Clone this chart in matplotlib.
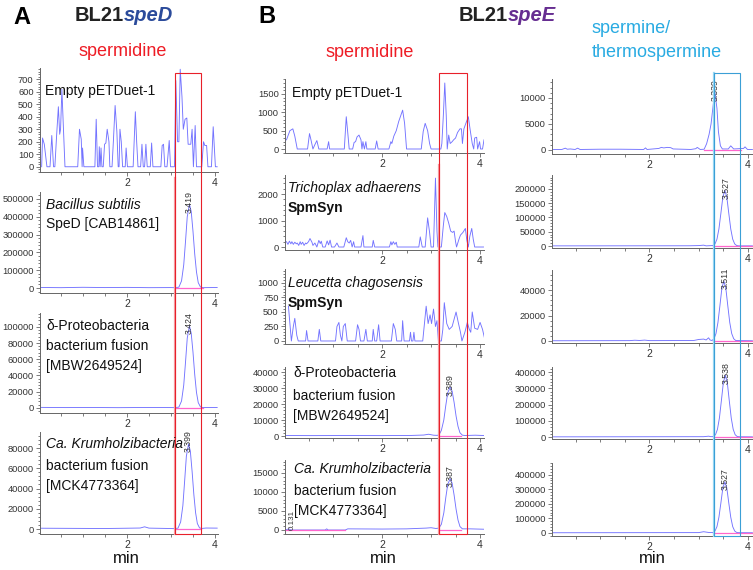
import matplotlib
matplotlib.use("Agg")
import matplotlib.pyplot as plt
from matplotlib.ticker import MultipleLocator, AutoMinorLocator, FixedLocator
from matplotlib.patches import Rectangle
from matplotlib.lines import Line2D

# chromatogram traces: (retention time [min], intensity)
a1 = [(0.06, 0), (0.08, 230), (0.12, 180), (0.18, 0), (0.25, 0), (0.29, 250), (0.33, 0),
      (0.36, 0), (0.40, 250), (0.44, 480), (0.47, 260), (0.49, 300), (0.52, 620), (0.55, 350), (0.59, 0),
      (0.88, 0), (0.92, 300), (0.96, 220), (0.98, 0), (0.99, 150), (1.02, 0),
      (1.27, 0), (1.30, 380), (1.33, 0), (1.36, 0), (1.37, 160), (1.39, 0), (1.41, 150), (1.43, 0),
      (1.46, 0), (1.49, 180), (1.52, 190), (1.55, 300), (1.59, 200), (1.61, 0),
      (1.66, 0), (1.69, 200), (1.73, 490), (1.77, 280), (1.80, 0), (1.82, 0), (1.84, 300), (1.87, 200), (1.90, 0),
      (1.96, 0), (1.98, 150), (2.01, 0), (2.14, 0), (2.19, 440), (2.22, 200), (2.25, 0),
      (2.31, 0), (2.34, 180), (2.37, 0), (2.40, 0), (2.43, 180), (2.46, 0), (2.53, 0), (2.56, 190), (2.59, 0),
      (2.77, 0), (2.80, 170), (2.83, 180), (2.86, 0), (2.91, 0), (2.96, 210), (2.99, 0),
      (3.08, 0), (3.11, 690), (3.15, 200), (3.18, 200), (3.21, 780), (3.25, 560), (3.28, 300), (3.32, 380),
      (3.36, 390), (3.39, 180), (3.45, 180), (3.48, 300), (3.51, 0), (3.55, 330), (3.58, 0),
      (3.70, 0), (3.74, 200), (3.77, 170), (3.81, 170), (3.84, 0), (3.92, 0), (3.96, 320), (4.01, 0), (4.05, 0)]
a2 = [(0.05, 3000), (0.5, 2000), (1.0, 4000), (1.5, 2500), (2.0, 3500), (2.5, 2000), (3.0, 2500), (3.10, 1500),
      (3.18, 5000), (3.24, 40000), (3.29, 130000), (3.33, 260000), (3.37, 400000), (3.42, 470000),
      (3.46, 430000), (3.50, 320000), (3.54, 190000), (3.58, 90000), (3.62, 30000), (3.67, 6000),
      (3.72, 2000), (4.05, 3000)]
a3 = [(0.05, 600), (0.6, 400), (1.2, 500), (1.8, 300), (2.4, 500), (3.0, 400), (3.10, 300), (3.18, 1000),
      (3.24, 8500), (3.29, 28000), (3.33, 56000), (3.37, 86000), (3.42, 101000), (3.46, 92000),
      (3.50, 69000), (3.54, 41000), (3.58, 19000), (3.62, 6500), (3.67, 1300), (3.72, 400), (4.05, 500)]
a4 = [(0.05, 800), (1.5, 500), (2.0, 800), (2.3, 1000), (2.4, 2200), (2.5, 900), (3.0, 500), (3.08, 400),
      (3.16, 900), (3.22, 7000), (3.27, 23000), (3.31, 47000), (3.35, 72000), (3.40, 84000), (3.44, 77000),
      (3.48, 57000), (3.52, 34000), (3.56, 16000), (3.60, 5400), (3.65, 1100), (3.70, 600), (3.8, 1000),
      (4.05, 900)]

b1 = [(0.05, 250), (0.12, 500), (0.18, 550), (0.22, 350), (0.27, 0), (0.48, 0), (0.52, 420), (0.55, 250),
      (0.59, 0), (0.63, 120), (0.67, 230), (0.71, 0), (0.88, 0), (0.91, 200), (0.93, 0), (1.23, 0),
      (1.27, 880), (1.30, 450), (1.33, 0), (1.40, 0), (1.43, 180), (1.46, 200), (1.49, 330), (1.53, 380),
      (1.57, 250), (1.59, 0), (1.61, 200), (1.64, 0), (1.67, 200), (1.69, 0), (1.86, 0), (1.89, 220),
      (1.92, 0), (2.14, 0), (2.18, 200), (2.20, 150), (2.24, 350), (2.29, 500), (2.34, 750), (2.42, 1060),
      (2.46, 700), (2.50, 0), (2.80, 0), (2.84, 480), (2.88, 700), (2.93, 500), (2.97, 150), (3.00, 0),
      (3.20, 0), (3.22, 150), (3.25, 900), (3.28, 1800), (3.31, 900), (3.33, 0), (3.36, 380), (3.39, 150),
      (3.43, 200), (3.46, 250), (3.50, 300), (3.54, 450), (3.59, 550), (3.62, 550), (3.64, 150), (3.67, 550),
      (3.71, 700), (3.76, 880), (3.80, 500), (3.84, 150), (3.87, 0), (3.89, 300), (3.93, 320), (3.95, 0),
      (3.99, 200), (4.01, 0), (4.05, 0), (4.08, 250)]
b2 = [(0.05, 200), (0.08, 100), (0.11, 220), (0.14, 120), (0.16, 200), (0.19, 100), (0.22, 180), (0.25, 120),
      (0.27, 150), (0.30, 60), (0.33, 200), (0.35, 100), (0.38, 180), (0.41, 60), (0.44, 150), (0.46, 120),
      (0.50, 200), (0.53, 320), (0.57, 180), (0.59, 60), (0.63, 150), (0.67, 0), (0.71, 250), (0.74, 130),
      (0.76, 220), (0.79, 0), (0.84, 0), (0.88, 230), (0.91, 80), (0.94, 260), (0.97, 0), (1.03, 0),
      (1.08, 150), (1.12, 0), (1.22, 0), (1.27, 350), (1.30, 200), (1.33, 150), (1.36, 250), (1.39, 0),
      (1.42, 200), (1.44, 0), (1.57, 0), (1.61, 430), (1.63, 0), (1.80, 0), (1.82, 250), (1.85, 0),
      (2.15, 0), (2.18, 200), (2.20, 80), (2.23, 200), (2.26, 100), (2.29, 180), (2.31, 0), (2.75, 0),
      (2.78, 380), (2.82, 0), (2.88, 0), (2.93, 1100), (2.97, 550), (3.00, 0), (3.05, 0), (3.09, 2600),
      (3.12, 600), (3.14, 0), (3.21, 0), (3.25, 800), (3.28, 1300), (3.32, 1150), (3.36, 900), (3.40, 600),
      (3.44, 550), (3.47, 600), (3.50, 200), (3.52, 0), (3.57, 300), (3.60, 450), (3.65, 550), (3.70, 700),
      (3.73, 250), (3.76, 0), (3.79, 400), (3.83, 700), (3.86, 300), (3.89, 0), (4.07, 0)]
b3 = [(0.09, 600), (0.12, 300), (0.15, 0), (0.19, 250), (0.22, 390), (0.26, 100), (0.29, 0), (0.44, 0),
      (0.46, 180), (0.49, 0), (0.69, 0), (0.72, 200), (0.75, 0), (1.05, 0), (1.08, 250), (1.12, 320),
      (1.15, 100), (1.18, 0), (1.21, 250), (1.25, 300), (1.29, 0), (1.46, 0), (1.50, 280), (1.53, 200),
      (1.56, 0), (1.63, 0), (1.67, 200), (1.70, 0), (1.80, 0), (1.82, 200), (1.85, 0), (1.89, 0),
      (1.93, 280), (1.96, 0), (2.19, 0), (2.23, 300), (2.27, 200), (2.30, 0), (2.40, 0), (2.42, 350),
      (2.45, 0), (2.56, 0), (2.58, 150), (2.60, 0), (2.63, 0), (2.65, 150), (2.67, 0), (2.83, 0),
      (2.90, 600), (2.94, 300), (2.98, 450), (3.01, 300), (3.05, 550), (3.09, 250), (3.12, 350), (3.15, 0),
      (3.21, 0), (3.24, 200), (3.27, 660), (3.32, 300), (3.37, 200), (3.43, 250), (3.51, 500), (3.56, 300),
      (3.60, 150), (3.63, 0), (3.69, 150), (3.74, 320), (3.78, 200), (3.81, 150), (3.84, 500), (3.89, 220),
      (3.95, 200), (4.00, 320), (4.05, 200), (4.09, 50)]
b4 = [(0.05, 300), (0.6, 250), (1.2, 300), (2.0, 250), (2.6, 350), (2.85, 600), (2.95, 1100), (3.05, 500),
      (3.12, 400), (3.16, 600), (3.21, 3500), (3.26, 10000), (3.30, 19000), (3.34, 27000), (3.39, 30500),
      (3.43, 28000), (3.47, 21000), (3.51, 12500), (3.55, 6000), (3.59, 2000), (3.64, 500), (3.70, 300),
      (3.9, 500), (4.08, 300)]
b5 = [(0.05, 100), (0.10, 300), (0.14, 0), (0.84, 0), (0.87, 300), (0.90, 0), (1.25, 0), (1.30, 300),
      (2.0, 250), (2.5, 300), (2.9, 500), (3.0, 600), (3.1, 400), (3.16, 500), (3.21, 1500), (3.26, 4500),
      (3.30, 8500), (3.34, 12000), (3.39, 13500), (3.43, 12300), (3.47, 9200), (3.51, 5500), (3.55, 2600),
      (3.59, 900), (3.64, 300), (3.80, 300), (4.08, 200)]

c1 = [(0.05, 100), (0.22, 100), (0.29, 350), (0.33, 150), (0.39, 200), (0.49, 100), (0.54, 350), (0.59, 100),
      (1.00, 150), (1.41, 150), (1.88, 100), (1.92, 400), (1.95, 100), (2.19, 300), (2.24, 500), (2.29, 400),
      (2.36, 500), (2.43, 450), (2.48, 200), (2.84, 100), (2.94, 250), (2.97, 500), (3.03, 100), (3.11, 150),
      (3.16, 1200), (3.21, 3000), (3.25, 5000), (3.28, 7500), (3.31, 10000), (3.33, 11000), (3.37, 8000),
      (3.40, 3500), (3.44, 800), (3.48, 200), (3.60, 200), (3.65, 800), (3.71, 200), (3.91, 300),
      (3.94, 600), (3.99, 100), (4.09, 100)]
c2 = [(0.05, 500), (2.8, 800), (3.0, 1500), (3.1, 3000), (3.15, 500), (3.29, 1700), (3.33, 7300),
      (3.37, 24000), (3.41, 60000), (3.45, 115000), (3.49, 172000), (3.53, 195000), (3.57, 172000),
      (3.61, 115000), (3.65, 60000), (3.69, 24000), (3.73, 7300), (3.77, 1700), (3.81, 500), (4.09, 500)]
c3 = [(0.05, 200), (1.6, 300), (1.7, 600), (1.8, 400), (1.9, 700), (2.0, 300), (2.9, 400), (3.0, 1200),
      (3.1, 1500), (3.15, 800), (3.2, 2500), (3.23, 800), (3.27, 400), (3.31, 1800), (3.35, 5800),
      (3.39, 14500), (3.43, 27700), (3.47, 41500), (3.51, 47000), (3.55, 41500), (3.59, 27700),
      (3.63, 14500), (3.67, 5800), (3.71, 1800), (3.75, 400), (3.85, 300), (4.09, 200)]
c4 = [(0.05, 1000), (3.1, 2000), (3.2, 5000), (3.25, 2000), (3.30, 3300), (3.34, 14000), (3.38, 47000),
      (3.42, 117000), (3.46, 224000), (3.50, 335000), (3.54, 380000), (3.58, 335000), (3.62, 224000),
      (3.66, 117000), (3.70, 47000), (3.74, 14000), (3.78, 3300), (3.82, 1500), (4.09, 1000)]
c5 = [(0.05, 1000), (3.0, 2000), (3.1, 8000), (3.2, 3000), (3.29, 3000), (3.33, 13000), (3.37, 43000),
      (3.41, 108000), (3.45, 206000), (3.49, 309000), (3.53, 350000), (3.57, 309000), (3.61, 206000),
      (3.65, 108000), (3.69, 43000), (3.73, 13000), (3.77, 3000), (3.81, 1500), (4.09, 1000)]

# integrated peaks: (rt label, apex time, apex height)
peaks = {
    'a2': ('3.419', 3.42, 470000), 'a3': ('3.424', 3.42, 101000), 'a4': ('3.399', 3.40, 84000),
    'b4': ('3.389', 3.39, 30500), 'b5': ('3.387', 3.39, 13500),
    'c1': ('3.339', 3.33, 11000), 'c2': ('3.527', 3.55, 195000), 'c3': ('3.511', 3.53, 47000),
    'c4': ('3.538', 3.55, 380000), 'c5': ('3.527', 3.54, 350000),
}
# integration baselines (start, end) in min
baselines = {
    'a2': [(3.12, 3.72)], 'a3': [(3.10, 3.72)], 'a4': [(3.10, 3.68)],
    'b4': [(3.16, 3.62)], 'b5': [(0.05, 1.25), (3.16, 3.62)],
    'c1': [(3.11, 3.85)], 'c2': [(3.28, 4.09)], 'c3': [(3.28, 4.09)],
    'c4': [(3.28, 4.09)], 'c5': [(3.28, 4.09)],
}
# extracted ion windows (min)
win_spd_a = (3.09, 3.68)
win_spd_b = (3.16, 3.73)
win_spm_c = (3.31, 3.84)

plt.rcParams['font.family'] = ['Liberation Sans', 'DejaVu Sans']

W, H = 753, 570
fig = plt.figure(figsize=(W / 100, H / 100), dpi=100)

TRACE = '#7373ff'
PINK = '#ff66cc'


def ptext(x, y, s, **kw):
    return fig.text(x / W, 1 - y / H, s, **kw)


def make_axes(left, right, top, bottom, xlim, ylim, ystep):
    ax = fig.add_axes([left / W, 1 - bottom / H, (right - left) / W, (bottom - top) / H])
    ax.patch.set_visible(False)
    ax.set_xlim(xlim)
    ax.set_ylim(ylim)
    for s in ('top', 'right'):
        ax.spines[s].set_visible(False)
    for s in ('left', 'bottom'):
        ax.spines[s].set_color('#666666')
        ax.spines[s].set_linewidth(0.7)
    ax.xaxis.set_major_locator(FixedLocator([2, 4]))
    ax.xaxis.set_minor_locator(MultipleLocator(0.5))
    ax.yaxis.set_major_locator(MultipleLocator(ystep))
    ax.yaxis.set_minor_locator(AutoMinorLocator(5))
    ax.tick_params(which='both', colors='#666666', labelcolor='#333333', width=0.6, length=3, pad=1.5)
    ax.tick_params(which='minor', length=1.8)
    ax.tick_params(axis='y', labelsize=6.7)
    ax.tick_params(axis='x', labelsize=7.5)
    return ax


def draw_trace(ax, key, data):
    t, y = zip(*data)
    ax.plot(t, y, color=TRACE, lw=0.65, zorder=2)
    for t0, t1 in baselines.get(key, []):
        ax.plot([t0, t1], [0, 0], color=PINK, lw=0.9, zorder=3)
    if key in peaks:
        lbl, rt, h = peaks[key]
        ax.annotate(lbl, (rt, h), xytext=(0, -6), textcoords='offset points', rotation=90,
                    ha='center', va='bottom', fontsize=6.3, color='#333333', zorder=4)


# layout: column x extents and rows (top px, bottom px, ylim, major step)
cols = {
    'a': (39.9, 217.6, (0.02, 4.06)),
    'b': (285.0, 484.0, (0.02, 4.08)),
    'c': (552.0, 752.9, (0.02, 4.10)),
}
rows = {
    'a': [(68, 172, (-42, 790), 100), (192, 293, (-28000, 539000), 100000),
          (313, 413, (-6300, 117000), 20000), (432, 534, (-4900, 95800), 20000)],
    'b': [(79, 153, (-109, 1909), 500), (175, 250, (-113, 2717), 1000), (269, 344, (-52, 1241), 250),
          (367, 438, (-1250, 43125), 10000), (460, 534, (-1053, 18420), 5000)],
    'c': [(79, 154, (-770, 13650), 5000), (175, 248, (-7000, 249000), 50000),
          (270, 343, (-1570, 55700), 20000), (367, 439, (-12300, 430800), 100000),
          (463, 536, (-21400, 480000), 100000)],
}
traces = {'a': [a1, a2, a3, a4], 'b': [b1, b2, b3, b4, b5], 'c': [c1, c2, c3, c4, c5]}

axes = {}
for col, (left, right, xlim) in cols.items():
    axes[col] = []
    for i, (top, bottom, ylim, step) in enumerate(rows[col]):
        ax = make_axes(left, right, top, bottom, xlim, ylim, step)
        draw_trace(ax, f'{col}{i + 1}', traces[col][i])
        axes[col].append(ax)

# small extra label at start of B5
axes['b'][4].annotate('0.131', (0.13, 0), xytext=(1, 0), textcoords='offset points', rotation=90,
                      ha='center', va='bottom', fontsize=5.8, color='#333333')


def window_box(col, win, top_px, thick_from_px, edge, thick):
    ax_top, ax_bot = axes[col][0], axes[col][-1]
    inv = fig.transFigure.inverted()
    x0 = inv.transform(ax_top.transData.transform((win[0], 0)))[0]
    x1 = inv.transform(ax_top.transData.transform((win[1], 0)))[0]
    y_top = 1 - top_px / H
    y_bot = ax_bot.get_position().y0
    fig.add_artist(Line2D([x0, x0], [y_bot, 1 - thick_from_px / H], transform=fig.transFigure,
                          color=thick, lw=1.6, zorder=5))
    fig.add_artist(Rectangle((x0, y_bot), x1 - x0, y_top - y_bot, transform=fig.transFigure,
                             fill=False, ec=edge, lw=0.8, zorder=6))


window_box('a', win_spd_a, 73, 178, '#e8202a', '#f4a0a4')
window_box('b', win_spd_b, 73, 165, '#e8202a', '#f4a0a4')
window_box('c', win_spm_c, 73, 73, '#3b9fd6', '#9ad8f4')

# headers
ptext(22, 24, 'A', fontsize=17, fontweight='bold', ha='center', va='baseline')
ptext(124, 21, 'BL21', fontsize=14.5, fontweight='bold', color='#222222', ha='right', va='baseline')
ptext(124, 21, 'speD', fontsize=14.5, fontweight='bold', style='italic', color='#2b4b9b', ha='left', va='baseline')
ptext(123, 56, 'spermidine', fontsize=13, color='#ee1c25', ha='center', va='baseline')

ptext(267, 23, 'B', fontsize=17, fontweight='bold', ha='center', va='baseline')
ptext(508, 21, 'BL21', fontsize=14.5, fontweight='bold', color='#222222', ha='right', va='baseline')
ptext(508, 21, 'speE', fontsize=14.5, fontweight='bold', style='italic', color='#662d91', ha='left', va='baseline')
ptext(370, 57, 'spermidine', fontsize=13, color='#ee1c25', ha='center', va='baseline')
ptext(592, 33, 'spermine/', fontsize=13, color='#29abe2', ha='left', va='baseline')
ptext(592, 57, 'thermospermine', fontsize=13, color='#29abe2', ha='left', va='baseline')

# sample labels (x px, baseline y px, text, style, weight)
labels = [
    (45, 95, 'Empty pETDuet-1', 'normal', 'normal'),
    (46, 209, 'Bacillus subtilis', 'italic', 'normal'),
    (46, 228, 'SpeD [CAB14861]', 'normal', 'normal'),
    (46, 330, 'δ-Proteobacteria', 'normal', 'normal'),
    (46, 350, 'bacterium fusion', 'normal', 'normal'),
    (46, 370, '[MBW2649524]', 'normal', 'normal'),
    (46, 448, 'Ca. Krumholzibacteria', 'italic', 'normal'),
    (46, 470, 'bacterium fusion', 'normal', 'normal'),
    (46, 490, '[MCK4773364]', 'normal', 'normal'),
    (292, 97, 'Empty pETDuet-1', 'normal', 'normal'),
    (288, 192, 'Trichoplax adhaerens', 'italic', 'normal'),
    (288, 212, 'SpmSyn', 'normal', 'bold'),
    (288, 287, 'Leucetta chagosensis', 'italic', 'normal'),
    (288, 307, 'SpmSyn', 'normal', 'bold'),
    (293, 377, 'δ-Proteobacteria', 'normal', 'normal'),
    (293, 400, 'bacterium fusion', 'normal', 'normal'),
    (293, 420, '[MBW2649524]', 'normal', 'normal'),
    (294, 473, 'Ca. Krumholzibacteria', 'italic', 'normal'),
    (294, 495, 'bacterium fusion', 'normal', 'normal'),
    (294, 515, '[MCK4773364]', 'normal', 'normal'),
]
for x, y, s, st, wt in labels:
    ptext(x, y, s, fontsize=10, style=st, fontweight=wt, color='#111111', ha='left', va='baseline', zorder=7)

for x in (126, 383, 652):
    ptext(x, 563, 'min', fontsize=12, color='#111111', ha='center', va='baseline')

fig.savefig('out.png', dpi=100)
